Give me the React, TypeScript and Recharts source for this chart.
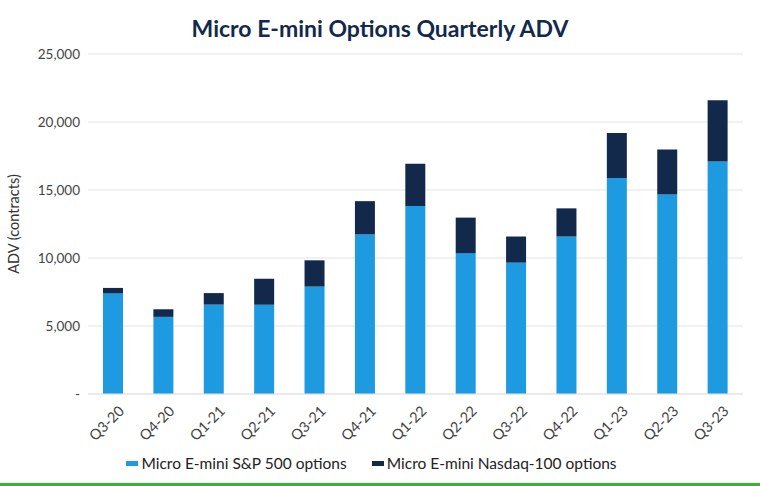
import { BarChart, Bar, XAxis, YAxis, CartesianGrid, Legend } from 'recharts';

const quarters = ['Q3-20', 'Q4-20', 'Q1-21', 'Q2-21', 'Q3-21', 'Q4-21', 'Q1-22', 'Q2-22', 'Q3-22', 'Q4-22', 'Q1-23', 'Q2-23', 'Q3-23'];
const spOptions = [7400, 5670, 6570, 6570, 7900, 11730, 13820, 10360, 9660, 11580, 15890, 14670, 17100];
const nasdaqOptions = [400, 560, 850, 1900, 1930, 2450, 3110, 2610, 1920, 2070, 3310, 3310, 4500];
const yTicks = [0, 5000, 10000, 15000, 20000, 25000];

const data = quarters.map((q, i) => ({ q, sp: spOptions[i], nq: nasdaqOptions[i] }));

const FONT = 'Lato, "Open Sans", sans-serif';
const LIGHT_BLUE = '#1e9be0';
const NAVY = '#13294b';

const legendItems = [
  { label: 'Micro E-mini S&P 500 options', color: LIGHT_BLUE },
  { label: 'Micro E-mini Nasdaq-100 options', color: NAVY },
];

const fmtY = (v: number) => (v === 0 ? '-' : new Intl.NumberFormat('en-US').format(v));

const XTick = ({ x, y, payload }: any) => (
  <text
    x={x + 4}
    y={y + 2}
    transform={`rotate(-45, ${x + 4}, ${y + 2})`}
    textAnchor="end"
    dominantBaseline="hanging"
    fontSize={14.5}
    fill="#444"
    fontFamily={FONT}
  >
    {payload.value}
  </text>
);

const renderLegend = () => (
  <div style={{ display: 'flex', justifyContent: 'center', gap: 25, fontSize: 15.5, color: '#222', fontFamily: FONT }}>
    {legendItems.map((it) => (
      <div key={it.label} style={{ display: 'flex', alignItems: 'center', gap: 3 }}>
        <span style={{ width: 12, height: 5, background: it.color, display: 'inline-block' }} />
        <span>{it.label}</span>
      </div>
    ))}
  </div>
);

export default function App() {
  return (
    <div style={{ position: 'absolute', left: 0, top: 0, width: 760, height: 486, background: '#fff', fontFamily: FONT }}>
      <div style={{ position: 'absolute', top: 14, width: 760, textAlign: 'center', fontSize: 23, fontWeight: 700, color: NAVY }}>
        Micro E-mini Options Quarterly ADV
      </div>
      <BarChart
        width={760}
        height={486}
        data={data}
        margin={{ top: 54, right: 17, left: 0, bottom: 12 }}
        barCategoryGap={15}
      >
        <CartesianGrid vertical={false} stroke="#e3e3e3" />
        <XAxis
          dataKey="q"
          tick={<XTick />}
          tickLine={false}
          axisLine={{ stroke: '#e3e3e3' }}
          interval={0}
          height={60}
        />
        <YAxis
          ticks={yTicks}
          domain={[0, 25000]}
          tickFormatter={fmtY}
          tickLine={false}
          axisLine={false}
          width={88}
          tick={{ fontSize: 13.5, fill: '#444', fontFamily: FONT }}
          label={{ value: 'ADV (contracts)', angle: -90, position: 'insideLeft', offset: 14, style: { textAnchor: 'middle', fontSize: 14.5, fill: '#333', fontFamily: FONT } }}
        />
        <Legend verticalAlign="bottom" align="center" height={20} content={renderLegend} />
        <Bar dataKey="sp" stackId="a" fill={LIGHT_BLUE} name="Micro E-mini S&P 500 options" isAnimationActive={false} />
        <Bar dataKey="nq" stackId="a" fill={NAVY} name="Micro E-mini Nasdaq-100 options" isAnimationActive={false} />
      </BarChart>
      <div style={{ position: 'absolute', left: 0, top: 483, width: 760, height: 3, background: '#35b535' }} />
    </div>
  );
}
